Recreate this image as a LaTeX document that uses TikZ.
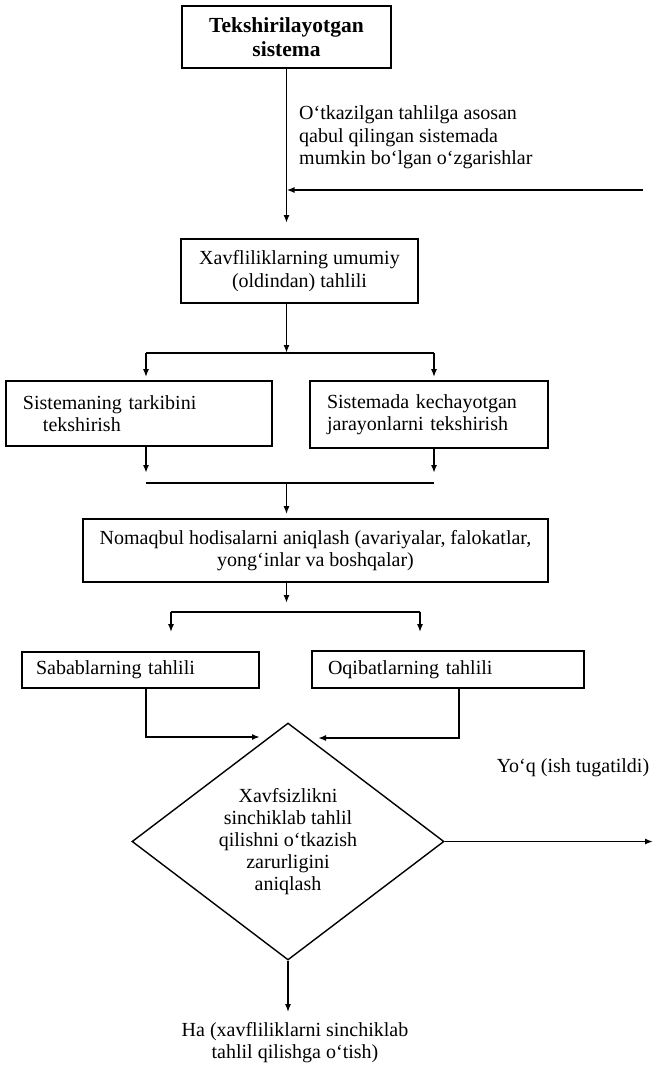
\documentclass[tikz,border=0pt]{standalone}
\usepackage{fontspec}
\setmainfont{Liberation Serif}
\usetikzlibrary{arrows.meta,shapes.geometric}
\tikzset{
  mainfont/.style={font=\fontsize{20pt}{22.5pt}\selectfont},
  box/.style={draw, line width=1.6pt, inner sep=0pt, mainfont},
  txt/.style={inner sep=0pt, mainfont},
  conn/.style={line width=1.6pt},
  arr/.style={conn, -{Latex[length=8pt,width=6pt]}},
}
\begin{document}
\begin{tikzpicture}[x=1pt,y=-1pt]
\useasboundingbox (0,0) rectangle (655,1065);

% boxes
\node[box, minimum width=209pt, minimum height=62pt, align=center,
      font=\fontsize{21.5pt}{24pt}\selectfont\bfseries] (b1) at (286.5,37) {Tekshirilayotgan\\sistema};
\node[box, minimum width=237pt, minimum height=64pt, align=center] (b2) at (299.5,271) {Xavfliliklarning umumiy\\(oldindan) tahlili};
\node[box, minimum width=266pt, minimum height=65pt, text width=232pt, align=left] (b3) at (139,413.5) {Sistemaning tarkibini\\\hspace*{20pt}tekshirish};
\node[box, minimum width=238pt, minimum height=67pt, text width=204pt, align=left] (b4) at (429,414.5) {Sistemada kechayotgan\\jarayonlarni tekshirish};
\node[box, minimum width=465pt, minimum height=63pt, align=center] (b5) at (315.5,550.5) {Nomaqbul hodisalarni aniqlash (avariyalar, falokatlar,\\yong‘inlar va boshqalar)};
\node[box, minimum width=237pt, minimum height=36pt, text width=209pt, align=left] (b6) at (140.5,670) {Sabablarning tahlili};
\node[box, minimum width=272pt, minimum height=37pt, text width=240pt, align=left] (b7) at (448,669.5) {Oqibatlarning tahlili};
\node[draw, diamond, line width=1.4pt, minimum width=312pt, minimum height=237pt, aspect=1.32,
      inner sep=0pt, align=center, font=\fontsize{20pt}{22pt}\selectfont] (d) at (288,841.5)
      {Xavfsizlikni\\sinchiklab tahlil\\qilishni o‘tkazish\\zarurligini\\aniqlash};

% labels
\node[txt, align=left, anchor=west] (lab) at (299,137.5) {O‘tkazilgan tahlilga asosan\\qabul qilingan sistemada\\mumkin bo‘lgan o‘zgarishlar};
\node[txt] (no) at (573,768) {Yo‘q (ish tugatildi)};
\node[txt, align=center] (yes) at (295,1042.5) {Ha (xavfliliklarni sinchiklab\\tahlil qilishga o‘tish)};

% coordinates
\coordinate (t1) at (286.5,223);
\coordinate (fbR) at (643,190);
\coordinate (s1L) at (146,353);
\coordinate (s1R) at (434,353);
\coordinate (m1L) at (146,483);
\coordinate (m1R) at (434,483);
\coordinate (s2L) at (171,612);
\coordinate (s2R) at (420,612);
\coordinate (j6) at (146,737);
\coordinate (e6) at (260,737);
\coordinate (j7) at (459,738);
\coordinate (e7) at (318,738);
\coordinate (noEnd) at (653,841.5);
\coordinate (yesEnd) at (288,1012);

% connectors
\draw[arr] (b1.south) -- (t1);
\draw[arr] (fbR) -- (fbR -| b1.south);
\draw[arr] (t1 |- b2.south) -- (t1 |- s1L);
\draw[conn] (s1L) -- (s1R);
\draw[arr, shorten >=3pt] (s1L) -- (s1L |- b3.north);
\draw[arr, shorten >=3pt] (s1R) -- (s1R |- b4.north);
\draw[arr, shorten >=10pt] (m1L |- b3.south) -- (m1L);
\draw[arr, shorten >=10pt] (m1R |- b4.south) -- (m1R);
\draw[conn] (m1L) -- (m1R);
\draw[arr, shorten >=4pt] (t1 |- m1L) -- (t1 |- b5.north);
\draw[arr, shorten >=9pt] (t1 |- b5.south) -- (t1 |- s2L);
\draw[conn] (s2L) -- (s2R);
\draw[arr, shorten >=19pt] (s2L) -- (s2L |- b6.north);
\draw[arr, shorten >=18pt] (s2R) -- (s2R |- b7.north);
\draw[arr] (j6 |- b6.south) -- (j6) -- (e6);
\draw[arr] (j7 |- b7.south) -- (j7) -- (e7);
\draw[arr] (d.east) -- (noEnd);
\draw[arr, line width=1.2pt] (d.south) -- (yesEnd);
\end{tikzpicture}
\end{document}
